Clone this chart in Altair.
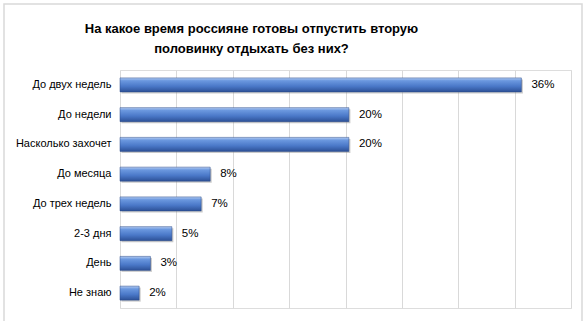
import altair as alt
import pandas as pd

categories = ["До двух недель", "До недели", "Насколько захочет", "До месяца",
              "До трех недель", "2-3 дня", "День", "Не знаю"]
values = [35.6, 20.3, 20.3, 8.0, 7.2, 4.6, 2.7, 1.7]
labels = ["36%", "20%", "20%", "8%", "7%", "5%", "3%", "2%"]
x_ticks = [0, 5, 10, 15, 20, 25, 30, 35, 40]
title_lines = ["На какое время россияне готовы отпустить вторую",
               "половинку отдыхать без них?"]

df = pd.DataFrame({"cat": categories, "val": values, "lab": labels})

FONT = "Liberation Sans"

grad = alt.LinearGradient(
    gradient="linear", x1=0, y1=0, x2=0, y2=1,
    stops=[
        alt.GradientStop(color="#b3cbf2", offset=0),
        alt.GradientStop(color="#6b98df", offset=0.2),
        alt.GradientStop(color="#4a78c8", offset=0.6),
        alt.GradientStop(color="#2d5197", offset=1),
    ],
)

y_enc = alt.Y("cat:N", sort=categories, title=None,
              scale=alt.Scale(paddingInner=0.54, paddingOuter=0.27),
              axis=alt.Axis(domain=False, ticks=False, labelPadding=9,
                            labelFont=FONT, labelFontSize=11,
                            labelColor="#000000", grid=False))
x_enc = alt.X("val:Q", title=None,
              scale=alt.Scale(domain=[0, 40], nice=False),
              axis=alt.Axis(values=x_ticks, labels=False, ticks=False,
                            domain=False, grid=True, gridColor="#d9d9d9",
                            gridWidth=1))

border = alt.Chart(pd.DataFrame({"a": [0]})).mark_rect(
    fill=None, stroke="#d9d9d9", strokeWidth=1.5
).encode(x=alt.value(-116), x2=alt.value(462), y=alt.value(-66), y2=alt.value(262))

shadow = alt.Chart(df).mark_bar(color="#8a8a8a", opacity=0.45, size=14,
                                xOffset=1.5, yOffset=1.5).encode(
    x=x_enc, y=y_enc)

bars = alt.Chart(df).mark_bar(color=grad, size=14, stroke="#2a4a8a",
                              strokeWidth=0.5).encode(x=x_enc, y=y_enc)

text = alt.Chart(df).mark_text(align="left", baseline="middle", dx=10,
                               font=FONT, fontSize=11.5, color="#000000").encode(
    x="val:Q", y=alt.Y("cat:N", sort=categories), text="lab:N")

chart = alt.layer(border, shadow, bars, text).properties(
    width=451, height=238,
    title=alt.TitleParams(text=title_lines, anchor="middle", frame="group",
                          dx=-94, offset=-53,
                          font=FONT, fontSize=13, fontWeight="bold",
                          color="#000000", lineHeight=20),
    autosize=alt.AutoSizeParams(type="none"),
    padding={"left": 120, "top": 70, "right": 15, "bottom": 13},
).configure_view(stroke=None).configure(background="#ffffff")

chart.save("out.html", embed_options={"renderer": "svg", "actions": False})
